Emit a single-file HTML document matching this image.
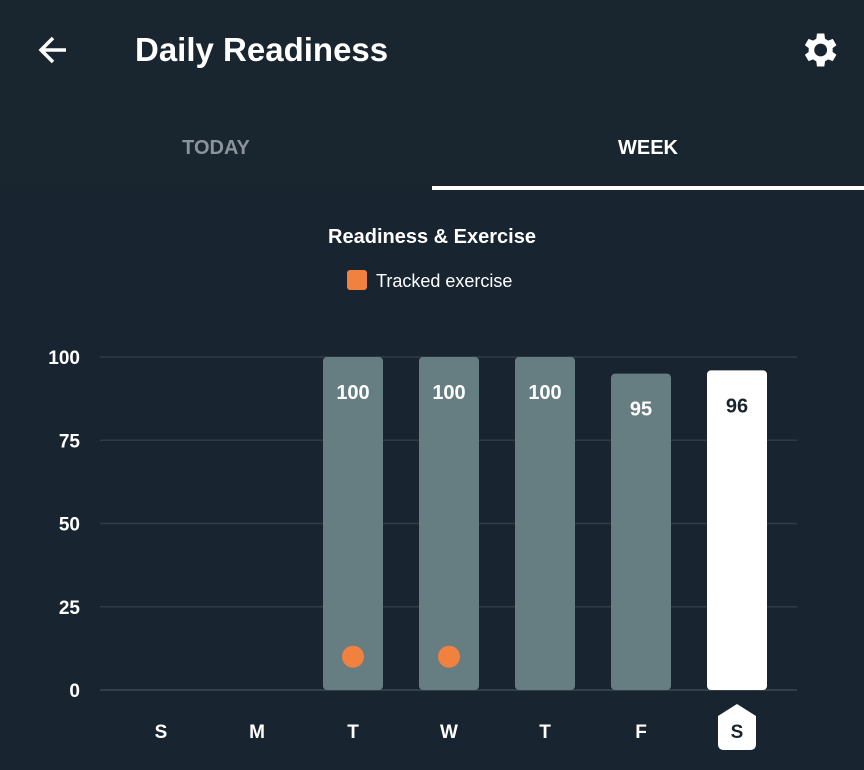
<!DOCTYPE html>
<html><head><meta charset="utf-8"><style>
body{margin:0;width:864px;height:770px;background:#182430;font-family:"Liberation Sans",sans-serif;overflow:hidden;position:relative;color:#fff}
.abs{position:absolute}
</style></head><body>
<div class="abs" style="left:0;top:0;width:864px;height:190px;background:#19252f"></div>
<svg class="abs" style="left:36px;top:33px" width="34" height="34" viewBox="0 0 34 34"><path d="M30 17H6M17 5L5 17l12 12" stroke="#fff" stroke-width="3.5" fill="none"/></svg>
<div class="abs" style="left:135px;top:31px;font-size:33px;font-weight:bold">Daily Readiness</div>
<svg class="abs" style="left:797px;top:28px" width="44" height="44" viewBox="0 0 24 24"><path fill="#fff" d="M19.4 13a7.5 7.5 0 0 0 0-2l2.1-1.6-2-3.5-2.5 1a7 7 0 0 0-1.7-1L14.9 3h-4l-.4 2.9a7 7 0 0 0-1.7 1l-2.5-1-2 3.5L6.4 11a7.5 7.5 0 0 0 0 2l-2.1 1.6 2 3.5 2.5-1a7 7 0 0 0 1.7 1l.4 2.9h4l.4-2.9a7 7 0 0 0 1.7-1l2.5 1 2-3.5zM12.9 15.5a3.5 3.5 0 1 1 0-7 3.5 3.5 0 0 1 0 7z"/></svg>
<div class="abs" style="left:0;top:137px;width:432px;text-align:center;font-size:20px;font-weight:bold;color:#8a939b">TODAY</div>
<div class="abs" style="left:432px;top:137px;width:432px;text-align:center;font-size:20px;font-weight:bold;color:#fff">WEEK</div>
<div class="abs" style="left:432px;top:186px;width:432px;height:4px;background:#fff"></div>
<div class="abs" style="left:0;top:226px;width:864px;text-align:center;font-size:20px;font-weight:bold">Readiness &amp; Exercise</div>
<div class="abs" style="left:347px;top:270px;font-size:18px;"><span style="display:inline-block;width:20px;height:20px;border-radius:3px;background:#f0813f;vertical-align:-3px;margin-right:9px"></span>Tracked exercise</div>
<svg id="chart" class="abs" style="left:0;top:0" width="864" height="770"></svg>
<script>
const days=["S","M","T","W","T","F","S"];
const values=[null,null,100,100,100,95,96];
const exercise=[0,0,1,1,0,0,0];
const ticks=[0,25,50,75,100];
const NS="http://www.w3.org/2000/svg";
const svg=document.getElementById('chart');
const y=v=>690-v*3.33;
const x=i=>161+i*96;
function mk(t,a,p){const e=document.createElementNS(NS,t);for(const k in a)e.setAttribute(k,a[k]);(p||svg).appendChild(e);return e;}
ticks.forEach(t=>{
  const l=mk('line',{x1:100,x2:797,y1:y(t),y2:y(t),stroke:t===0?'#3a4650':'#2f3b45','stroke-width':1.5});
  
  
  const tx=mk('text',{x:80,y:y(t)+7,'text-anchor':'end',fill:'#fff','font-size':19,'font-weight':'bold','font-family':'Liberation Sans'});
  tx.textContent=t;
  
  
});
const last=days.length-1;
values.forEach((v,i)=>{
  if(v!==null){
    const sel=i===last;
    const b=mk('rect',{x:x(i)-30,y:y(v),width:60,height:y(0)-y(v),rx:4,fill:sel?'#fff':'#667d82'});
    
    
    const t=mk('text',{x:x(i),y:y(v)+42,'text-anchor':'middle',fill:sel?'#18242f':'#fff','font-size':20,'font-weight':'bold','font-family':'Liberation Sans'});
    t.textContent=v;
    
    
  }
  if(exercise[i]){
    const c=mk('circle',{cx:x(i),cy:y(10),r:11,fill:'#f0813f'});
    
    
  }
  if(i===last){
    const p=mk('path',{d:`M${x(i)-19} 716 L${x(i)} 704 L${x(i)+19} 716 V744 q0 6 -6 6 H${x(i)-13} q-6 0 -6 -6 Z`,fill:'#fff'});
    
    
  }
  const d=mk('text',{x:x(i),y:738,'text-anchor':'middle',fill:i===last?'#18242f':'#fff','font-size':19,'font-weight':'bold','font-family':'Liberation Sans'});
  d.textContent=days[i];
  
  
});
</script>
</body></html>
